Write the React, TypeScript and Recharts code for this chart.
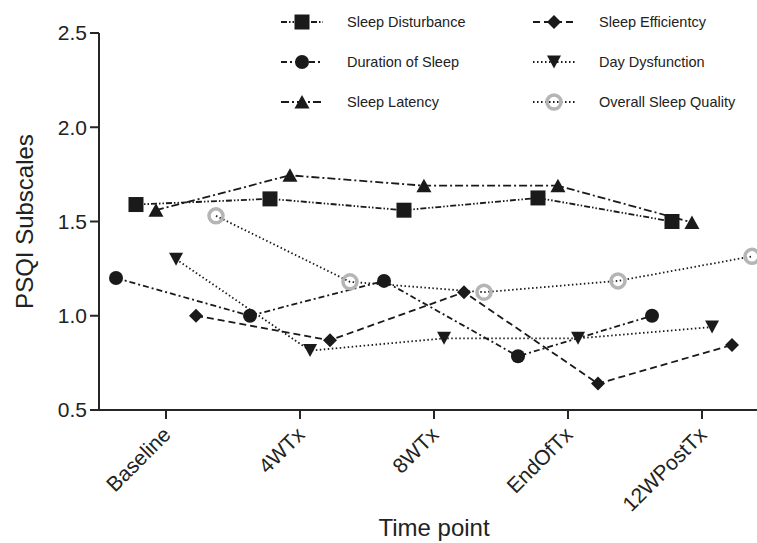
import React from 'react';
import { LineChart, Line, XAxis, YAxis, Label } from 'recharts';

const timePoints = ['Baseline', '4WTx', '8WTx', 'EndOfTx', '12WPostTx'];
const yTicks = [0.5, 1.0, 1.5, 2.0, 2.5];

const sleepDisturbance = [1.59, 1.62, 1.56, 1.625, 1.5];
const durationOfSleep = [1.2, 1.0, 1.185, 0.785, 1.0];
const sleepLatency = [1.56, 1.745, 1.69, 1.69, 1.495];
const sleepEfficiency = [1.0, 0.87, 1.125, 0.64, 0.845];
const dayDysfunction = [1.3, 0.815, 0.88, 0.88, 0.94];
const overallSleepQuality = [1.53, 1.18, 1.125, 1.185, 1.315];

const INK = '#1a1a1a';
const AXIS = '#262626';
const RING = '#b5b5b5';
const FONT = '"Liberation Sans", Arial, Helvetica, sans-serif';

// dodge: horizontal shift of each series around its time point (in category units)
const series = [
  { name: 'Sleep Disturbance', values: sleepDisturbance, shape: 'square', dash: '6 2 1.5 2 1.5 2', dodge: -0.224, col: 0, row: 0 },
  { name: 'Duration of Sleep', values: durationOfSleep, shape: 'circle', dash: '6 3 2 3', dodge: -0.373, col: 0, row: 1 },
  { name: 'Sleep Latency', values: sleepLatency, shape: 'triangle', dash: '8 3 2 3', dodge: -0.075, col: 0, row: 2 },
  { name: 'Sleep Efficientcy', values: sleepEfficiency, shape: 'diamond', dash: '7 4', dodge: 0.224, col: 1, row: 0 },
  { name: 'Day Dysfunction', values: dayDysfunction, shape: 'invTriangle', dash: '1.5 2.5', dodge: 0.075, col: 1, row: 1 },
  { name: 'Overall Sleep Quality', values: overallSleepQuality, shape: 'ring', dash: '1.5 2.5', dodge: 0.373, col: 1, row: 2 },
];

const Marker = ({ shape, cx, cy }: { shape: string; cx: number; cy: number }) => {
  switch (shape) {
    case 'square':
      return <rect x={cx - 7.5} y={cy - 7.5} width={15} height={15} fill={INK} />;
    case 'circle':
      return <circle cx={cx} cy={cy} r={7} fill={INK} />;
    case 'triangle':
      return <path d={`M${cx},${cy - 7} L${cx + 7.5},${cy + 6.5} L${cx - 7.5},${cy + 6.5} Z`} fill={INK} />;
    case 'invTriangle':
      return <path d={`M${cx - 7},${cy - 6.5} L${cx + 7},${cy - 6.5} L${cx},${cy + 6.5} Z`} fill={INK} />;
    case 'diamond':
      return <path d={`M${cx},${cy - 7} L${cx + 7},${cy} L${cx},${cy + 7} L${cx - 7},${cy} Z`} fill={INK} />;
    default:
      return <circle cx={cx} cy={cy} r={7} fill="none" stroke={RING} strokeWidth={3.5} />;
  }
};

const XTick = ({ x, y, payload }: any) => {
  const ax = x + 6;
  const ay = y + 15;
  return (
    <text
      x={ax}
      y={ay}
      transform={`rotate(-45 ${ax} ${ay})`}
      textAnchor="end"
      fontSize={21}
      fontFamily={FONT}
      fill="#222"
    >
      {timePoints[payload.value]}
    </text>
  );
};

const Legend = () => (
  <svg width={757} height={140} style={{ position: 'absolute', left: 0, top: 0, pointerEvents: 'none' }}>
    {series.map((s) => {
      const x = s.col === 0 ? 281 : 533;
      const y = 22 + s.row * 40;
      return (
        <g key={s.name}>
          <line x1={x} y1={y} x2={x + 42} y2={y} stroke={INK} strokeWidth={1.8} strokeDasharray={s.dash} />
          <Marker shape={s.shape} cx={x + 21} cy={y} />
          <text x={x + 66} y={y + 5} fontSize={14.5} fontFamily={FONT} fill="#222">
            {s.name}
          </text>
        </g>
      );
    })}
  </svg>
);

export default function App() {
  return (
    <div style={{ position: 'absolute', left: 0, top: 0, width: 757, height: 543, overflow: 'hidden', background: '#fff' }}>
      <LineChart width={770} height={543} margin={{ top: 33, right: 1, bottom: 0, left: 0 }}>
        <XAxis
          type="number"
          dataKey="x"
          domain={[-0.5, 4.5]}
          ticks={[0, 1, 2, 3, 4]}
          interval={0}
          height={133}
          tickSize={9}
          axisLine={{ stroke: AXIS, strokeWidth: 2 }}
          tickLine={{ stroke: AXIS, strokeWidth: 2 }}
          tick={<XTick />}
        >
          <Label
            content={({ viewBox }: any) => (
              <text
                x={viewBox.x + viewBox.width / 2}
                y={536}
                textAnchor="middle"
                fontSize={24}
                fontFamily={FONT}
                fill="#222"
              >
                Time point
              </text>
            )}
          />
        </XAxis>
        <YAxis
          type="number"
          domain={[0.5, 2.5]}
          ticks={yTicks}
          width={99}
          tickSize={9}
          tickMargin={3}
          axisLine={{ stroke: AXIS, strokeWidth: 2 }}
          tickLine={{ stroke: AXIS, strokeWidth: 2 }}
          tick={{ fontSize: 21, fill: '#222', fontFamily: FONT }}
          tickFormatter={(v: number) => v.toFixed(1)}
        >
          <Label
            content={({ viewBox }: any) => {
              const cx = 33;
              const cy = viewBox.y + viewBox.height / 2;
              return (
                <text
                  x={cx}
                  y={cy}
                  transform={`rotate(-90 ${cx} ${cy})`}
                  textAnchor="middle"
                  fontSize={24}
                  fontFamily={FONT}
                  fill="#222"
                >
                  PSQI Subscales
                </text>
              );
            }}
          />
        </YAxis>
        {series.map((s) => (
          <Line
            key={s.name}
            name={s.name}
            data={s.values.map((v, i) => ({ x: i + s.dodge, y: v }))}
            dataKey="y"
            stroke={INK}
            strokeWidth={1.8}
            strokeDasharray={s.dash}
            isAnimationActive={false}
            dot={(p: any) => <Marker key={`${s.name}-${p.index}`} shape={s.shape} cx={p.cx} cy={p.cy} />}
            activeDot={false}
          />
        ))}
      </LineChart>
      <Legend />
    </div>
  );
}
